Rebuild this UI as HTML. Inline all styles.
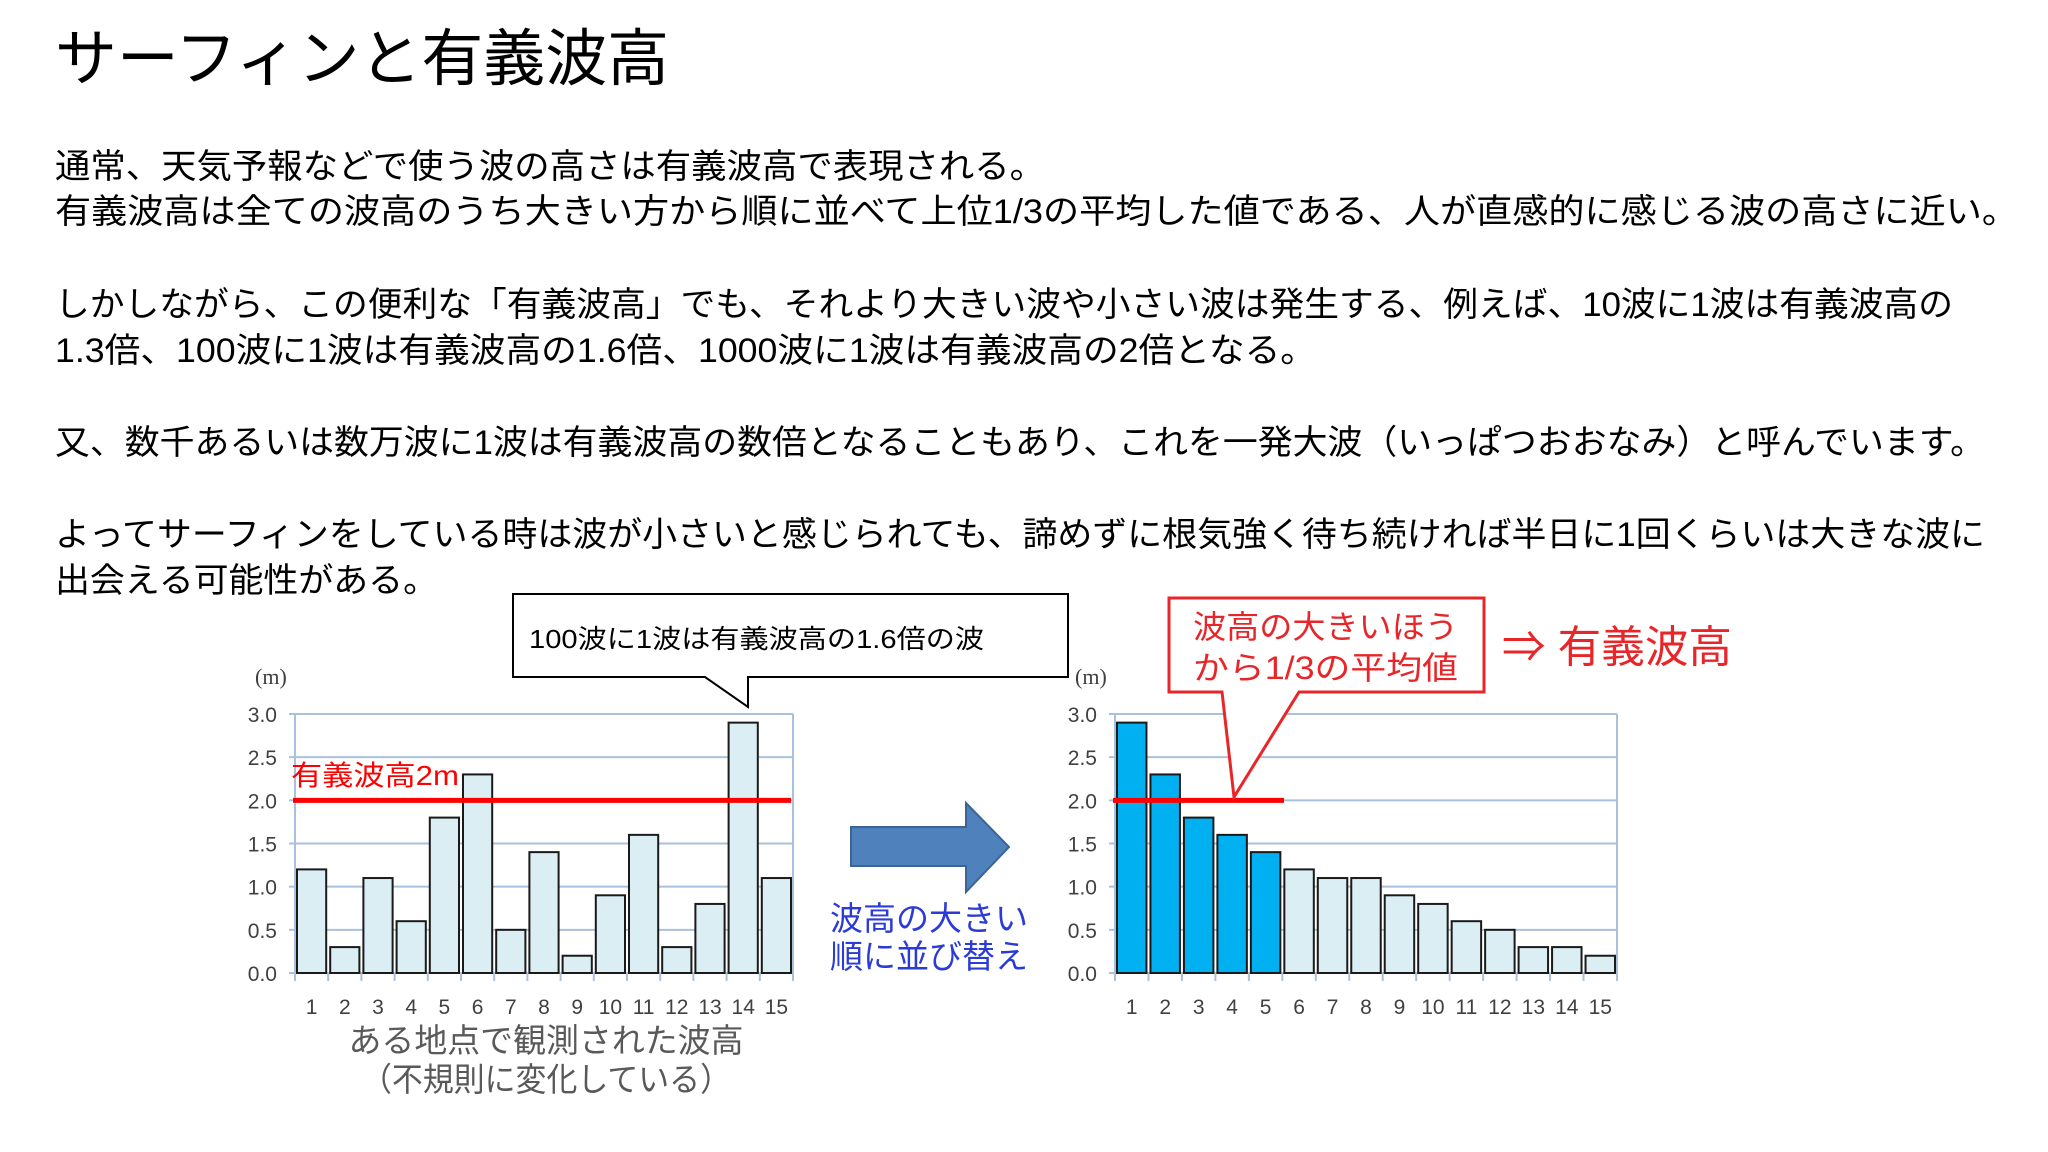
<!DOCTYPE html>
<html><head><meta charset="utf-8"><style>
html,body{margin:0;padding:0;background:#fff;}
svg{display:block;font-family:"Liberation Sans","Noto Sans CJK JP",sans-serif;}
</style></head><body>
<svg id="s" width="2048" height="1152" viewBox="0 0 2048 1152" xmlns="http://www.w3.org/2000/svg">
<rect width="2048" height="1152" fill="#fff"/>
<text x="55" y="80" font-size="62" fill="#000" textLength="614" lengthAdjust="spacingAndGlyphs">サーフィンと有義波高</text>
<g font-size="34" fill="#000">
<text x="55" y="178" textLength="990" lengthAdjust="spacingAndGlyphs">通常、天気予報などで使う波の高さは有義波高で表現される。</text>
<text x="55" y="223" textLength="1963" lengthAdjust="spacingAndGlyphs">有義波高は全ての波高のうち大きい方から順に並べて上位1/3の平均した値である、人が直感的に感じる波の高さに近い。</text>
<text x="55" y="316" textLength="1898" lengthAdjust="spacingAndGlyphs">しかしながら、この便利な「有義波高」でも、それより大きい波や小さい波は発生する、例えば、10波に1波は有義波高の</text>
<text x="55" y="362" textLength="1261" lengthAdjust="spacingAndGlyphs">1.3倍、100波に1波は有義波高の1.6倍、1000波に1波は有義波高の2倍となる。</text>
<text x="55" y="454" textLength="1930" lengthAdjust="spacingAndGlyphs">又、数千あるいは数万波に1波は有義波高の数倍となることもあり、これを一発大波（いっぱつおおなみ）と呼んでいます。</text>
<text x="55" y="546" textLength="1930" lengthAdjust="spacingAndGlyphs">よってサーフィンをしている時は波が小さいと感じられても、諦めずに根気強く待ち続ければ半日に1回くらいは大きな波に</text>
<text x="55" y="592" textLength="383" lengthAdjust="spacingAndGlyphs">出会える可能性がある。</text>
</g>
<g>
<path d="M513 594 H1068 V677 H748 L748 707 L705 677 H513 Z" fill="#fff" stroke="#000" stroke-width="2"/>
<text x="529" y="648" font-size="26" fill="#000" textLength="455" lengthAdjust="spacingAndGlyphs">100波に1波は有義波高の1.6倍の波</text>
</g>
<g id="left"></g>
<g id="right"></g>
<g>
<path d="M851 827 H966 V803 L1009 847 L966 892 V866 H851 Z" fill="#4f81bd" stroke="#3a6596" stroke-width="2"/>
</g>
<text x="830" y="930" font-size="33" fill="#2b3bd6" textLength="198" lengthAdjust="spacingAndGlyphs">波高の大きい</text>
<text x="830" y="968" font-size="33" fill="#2b3bd6" textLength="198" lengthAdjust="spacingAndGlyphs">順に並び替え</text>
<text x="546" y="1052" font-size="33" fill="#595959" text-anchor="middle" textLength="395" lengthAdjust="spacingAndGlyphs">ある地点で観測された波高</text>
<text x="546" y="1091" font-size="33" fill="#595959" text-anchor="middle" textLength="370" lengthAdjust="spacingAndGlyphs">（不規則に変化している）</text>
<g>
<path d="M1169 598 H1484 V692 H1299 L1234 797 L1222 692 H1169 Z" fill="#fff" stroke="#e8262a" stroke-width="3"/>
<text x="1193" y="638" font-size="32" fill="#e8262a" textLength="265" lengthAdjust="spacingAndGlyphs">波高の大きいほう</text>
<text x="1193" y="679" font-size="32" fill="#e8262a" textLength="265" lengthAdjust="spacingAndGlyphs">から1/3の平均値</text>
</g>
<text x="1502" y="662" font-size="44" fill="#e8262a" textLength="230" lengthAdjust="spacingAndGlyphs">⇒ 有義波高</text>
</svg>
<script>
const categories = ["1","2","3","4","5","6","7","8","9","10","11","12","13","14","15"];
const observedHeights = [1.2,0.3,1.1,0.6,1.8,2.3,0.5,1.4,0.2,0.9,1.6,0.3,0.8,2.9,1.1];
const sortedHeights = [2.9,2.3,1.8,1.6,1.4,1.2,1.1,1.1,0.9,0.8,0.6,0.5,0.3,0.3,0.2];
const yTicks = [0,0.5,1.0,1.5,2.0,2.5,3.0];
const yTickLabels = ["0.0","0.5","1.0","1.5","2.0","2.5","3.0"];
const significantHeight = 2.0;
const highlightCount = 5;
const NS = "http://www.w3.org/2000/svg";
function mk(tag, attrs, parent){const e=document.createElementNS(NS,tag);for(const k in attrs)e.setAttribute(k,attrs[k]);parent.appendChild(e);return e;}
function drawChart(g, x0, x1, values, hl, lineEnd, labelX){
  const yB=973, yT=714, maxV=3;
  const ys=v=>yB-(v/maxV)*(yB-yT);
  const bw=(x1-x0)/categories.length;
  const xs=i=>x0+i*bw;
  yTicks.forEach((t,i)=>{
    const l=mk("line",{x1:x0-6,x2:x1,y1:ys(t),y2:ys(t),stroke:"#a9c1dc","stroke-width":2},g);
    
    
    const tx=mk("text",{x:x0-18,y:ys(t)+8,"font-size":21,fill:"#404040","text-anchor":"end"},g);
    tx.textContent=yTickLabels[i];
    
    
  });
  mk("line",{x1:x0,x2:x0,y1:yT,y2:yB,stroke:"#a9c1dc","stroke-width":2},g);
  mk("line",{x1:x1,x2:x1,y1:yT,y2:yB,stroke:"#a9c1dc","stroke-width":2},g);
  for(let i=0;i<=categories.length;i++){
    const tk=mk("line",{x1:xs(i),x2:xs(i),y1:yB,y2:yB+8,stroke:"#a9c1dc","stroke-width":2},g);
    
    
  }
  values.forEach((v,i)=>{
    const r=mk("rect",{x:xs(i)+2,y:ys(v),width:bw-4,height:yB-ys(v),fill:i<hl?"#00b0f0":"#daeef3",stroke:"#1a1a1a","stroke-width":2},g);
    
    
    const t=mk("text",{x:xs(i)+bw/2,y:1014,"font-size":21,fill:"#404040","text-anchor":"middle"},g);
    t.textContent=categories[i];
    
    
  });
  const u=mk("text",{x:x0-40,y:684,"font-size":22,fill:"#404040","font-family":"Liberation Serif, Noto Serif CJK SC, serif"},g);
  u.textContent="(m)";
  
  
  const rl=mk("line",{x1:x0-2,x2:lineEnd,y1:ys(significantHeight),y2:ys(significantHeight),stroke:"#ff0000","stroke-width":5},g);
  
  
  if(labelX){
    const lt=mk("text",{x:labelX,y:785,"font-size":28,fill:"#ff0000",textLength:168,lengthAdjust:"spacingAndGlyphs"},g);
    lt.textContent="有義波高2m";
    
    
  }
}
drawChart(document.getElementById("left"),295,793,observedHeights,0,791,291);
drawChart(document.getElementById("right"),1115,1617,sortedHeights,highlightCount,1284,null);
</script>
</body></html>
